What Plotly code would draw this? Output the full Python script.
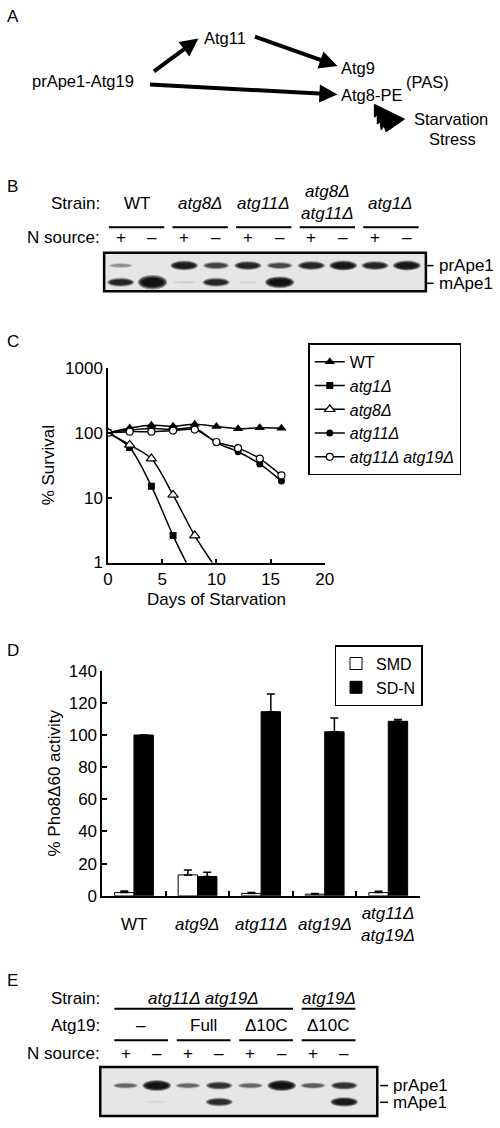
import plotly.graph_objects as go

W, H = 500, 1128
def px(x): return x / W
def py(y): return 1 - y / H

FONT = "Arial, Liberation Sans, sans-serif"
FS = 17
FSA = 16.5

# ---------------- Panel C data (survival) ----------------
days_wt = [0, 2, 4, 6, 8, 10, 12, 14, 16]
surv_wt = [100, 118, 130, 126, 135, 125, 115, 119, 117]
days_atg1 = [0, 2, 4, 6, 8]
surv_atg1 = [100, 59, 15, 2.6, 0.55]
days_atg8 = [0, 2, 4, 6, 8, 10]
surv_atg8 = [100, 65, 40, 11, 2.6, 0.8]
days_atg11 = [0, 2, 4, 6, 8, 10, 12, 14, 16]
surv_atg11 = [100, 110, 116, 112, 118, 70, 51, 33, 18]
days_atg11_19 = [0, 2, 4, 6, 8, 10, 12, 14, 16]
surv_atg11_19 = [100, 104, 104, 108, 112, 72, 58, 40, 22]

# ---------------- Panel D data (Pho8D60) ----------------
strains_D = ["WT", "<i>atg9Δ</i>", "<i>atg11Δ</i>", "<i>atg19Δ</i>", "<i>atg11Δ</i><br><i>atg19Δ</i>"]
smd = [2, 13, 1.5, 1, 2]
smd_err = [1, 3, 0.6, 0.4, 0.8]
sdn = [100, 12, 114.5, 102, 108.5]
sdn_err = [0, 2.7, 11, 8.5, 1.2]

# ---------------- Panel B blot ----------------
B_lanes = list(range(1, 11))
B_strains = ["WT", "<i>atg8Δ</i>", "<i>atg11Δ</i>", "<i>atg8Δ</i><br><i>atg11Δ</i>", "<i>atg1Δ</i>"]
B_nsource = ["+", "–"] * 5
B_prApe1 = [0.25, 0, 0.9, 0.6, 0.8, 0.55, 0.8, 0.95, 0.8, 0.95]
B_mApe1 = [0.8, 1.6, 0.06, 0.8, 0.03, 1.2, 0, 0, 0, 0]

# ---------------- Panel E blot ----------------
E_lanes = list(range(1, 9))
E_strains = ["<i>atg11Δ atg19Δ</i>", "<i>atg19Δ</i>"]
E_strain_span = [(1, 6), (7, 8)]
E_atg19 = ["–", "Full", "Δ10C", "Δ10C"]
E_nsource = ["+", "–"] * 4
E_prApe1 = [0.4, 1.1, 0.4, 0.7, 0.4, 1.1, 0.45, 0.7]
E_mApe1 = [0, 0.03, 0, 0.75, 0, 0, 0, 0.9]

fig = go.Figure()

# ---- Panel C traces ----
line = dict(color="black", width=1.5, shape="spline", smoothing=0.8)
fig.add_trace(go.Scatter(x=days_wt, y=surv_wt, name="WT", mode="lines+markers", line=line,
                         marker=dict(symbol="triangle-up", size=9, color="black"),
                         xaxis="x", yaxis="y", legend="legend"))
fig.add_trace(go.Scatter(x=days_atg1, y=surv_atg1, name="<i>atg1Δ</i>", mode="lines+markers", line=line,
                         marker=dict(symbol="square", size=7, color="black"),
                         xaxis="x", yaxis="y", legend="legend"))
fig.add_trace(go.Scatter(x=days_atg8, y=surv_atg8, name="<i>atg8Δ</i>", mode="lines+markers", line=line,
                         marker=dict(symbol="triangle-up", size=9, color="white", line=dict(color="black", width=1.2)),
                         xaxis="x", yaxis="y", legend="legend"))
fig.add_trace(go.Scatter(x=days_atg11, y=surv_atg11, name="<i>atg11Δ</i>", mode="lines+markers", line=line,
                         marker=dict(symbol="circle", size=7, color="black"),
                         xaxis="x", yaxis="y", legend="legend"))
fig.add_trace(go.Scatter(x=days_atg11_19, y=surv_atg11_19, name="<i>atg11Δ atg19Δ</i>", mode="lines+markers", line=line,
                         marker=dict(symbol="circle", size=7, color="white", line=dict(color="black", width=1.2)),
                         xaxis="x", yaxis="y", legend="legend"))

# ---- Panel D traces ----
fig.add_trace(go.Bar(x=strains_D, y=smd, name="SMD", marker=dict(color="white", line=dict(color="black", width=1)),
                     error_y=dict(type="data", array=smd_err, arrayminus=[0] * len(smd_err), symmetric=False,
                                  color="black", thickness=1.5, width=4),
                     xaxis="x2", yaxis="y2", legend="legend2"))
fig.add_trace(go.Bar(x=strains_D, y=sdn, name="SD-N", marker=dict(color="black", line=dict(color="black", width=1)),
                     error_y=dict(type="data", array=sdn_err, arrayminus=[0] * len(sdn_err), symmetric=False,
                                  color="black", thickness=1.5, width=4),
                     xaxis="x2", yaxis="y2", legend="legend2"))

# invisible anchor traces for blot axes
fig.add_trace(go.Scatter(x=B_lanes, y=[0.5] * len(B_lanes), mode="markers", marker=dict(opacity=0),
                         showlegend=False, hoverinfo="skip", xaxis="x3", yaxis="y3"))
fig.add_trace(go.Scatter(x=E_lanes, y=[0.5] * len(E_lanes), mode="markers", marker=dict(opacity=0),
                         showlegend=False, hoverinfo="skip", xaxis="x4", yaxis="y4"))

shapes = []
ann = []

def text(x, y, s, size=FS, xanchor="center", xref="paper", **kw):
    ann.append(dict(x=x, y=y, xref=xref, yref="paper", text=s, showarrow=False,
                    font=dict(family=FONT, size=size, color="black"), xanchor=xanchor, yanchor="middle", **kw))

# ---- Panel letters ----
text(px(0), py(8), "A", xanchor="left")
text(px(0), py(181), "B", xanchor="left")
text(px(0), py(338), "C", xanchor="left")
text(px(0), py(652), "D", xanchor="left")
text(px(0), py(988), "E", xanchor="left")

# ---- Panel A diagram ----
text(px(80), py(73), "prApe1-Atg19", size=FSA)
text(px(226), py(30), "Atg11", size=FSA)
text(px(344), py(60), "Atg9", xanchor="left", size=FSA)
text(px(344), py(87), "Atg8-PE", xanchor="left", size=FSA)
text(px(411), py(74), "(PAS)", xanchor="left", size=FSA)
text(px(459), py(112), "Starvation", size=FSA)
text(px(460), py(132), "Stress", size=FSA)
for (x0, y0, x1, y1) in [(153, 64, 199, 30), (258, 28, 342, 58), (153, 77, 342, 87)]:
    ann.append(dict(x=px(x1), y=py(y1), ax=x0 - x1, ay=y0 - y1, xref="paper", yref="paper",
                    axref="pixel", ayref="pixel", showarrow=True, arrowhead=2, arrowsize=0.9,
                    arrowwidth=4, arrowcolor="black", text=""))
pts = [(380, 97), (411, 112), (392, 125), (390, 119), (387, 123), (386, 115), (383, 117), (383, 108), (380, 110)]
path = "M " + " L ".join(f"{px(a)},{py(b)}" for a, b in pts) + " Z"
shapes.append(dict(type="path", xref="paper", yref="paper", path=path, fillcolor="black", line=dict(color="black", width=1)))

# ---- Blot helpers ----
def add_bands(xref, yref, lanes, row_y, amounts, px_lane, px_unit):
    for lane, a in zip(lanes, amounts):
        if a <= 0:
            continue
        w_px = 24 + 5 * min(a, 1.2)
        h_px = 3 + 7.5 * a
        d = min(a, 1.0)
        for scale, alpha in [(1.0, 0.4), (0.82, 0.6), (0.6, 0.85)]:
            hw = w_px * (0.5 + 0.5 * scale) / 2 / px_lane
            hh = h_px * scale / 2 / px_unit
            shapes.append(dict(type="circle", xref=xref, yref=yref, x0=lane - hw, x1=lane + hw,
                               y0=row_y - hh, y1=row_y + hh, line=dict(width=0),
                               fillcolor=f"rgba(12,12,12,{alpha * d:.3f})"))

def blot_bg(xr, yr):
    shapes.append(dict(type="rect", xref=f"{xr} domain", yref=f"{yr} domain", x0=0, x1=1, y0=0, y1=1,
                       fillcolor="#e6e6e6", line=dict(color="black", width=2.5), layer="below"))

# ---- Panel B ----
blot_bg("x3", "y3")
add_bands("x3", "y3", B_lanes, 1, B_prApe1, 32.7, 17)
add_bands("x3", "y3", B_lanes, 0, B_mApe1, 32.7, 17)
text(px(100), py(198), "Strain:", xanchor="right")
text(px(100), py(232), "N source:", xanchor="right")
for i, s in enumerate(B_strains):
    c = 2 * i + 1.5
    text(c, py(197 if "<br>" in s else 198), s, xref="x3")
    shapes.append(dict(type="line", xref="x3", yref="paper", x0=2 * i + 1 - 0.37, x1=2 * i + 2 + 0.37,
                       y0=py(222), y1=py(222), line=dict(color="black", width=2)))
for lane, s in zip(B_lanes, B_nsource):
    text(lane, py(232), s, xref="x3")
for yy, lab in [(261, "prApe1"), (279, "mApe1")]:
    shapes.append(dict(type="line", xref="paper", yref="paper", x0=px(434), x1=px(441), y0=py(yy), y1=py(yy),
                       line=dict(color="black", width=1.5)))
    text(px(444), py(yy), lab, xanchor="left")

# ---- Panel E ----
blot_bg("x4", "y4")
add_bands("x4", "y4", E_lanes, 1, E_prApe1, 32.1, 16.7)
add_bands("x4", "y4", E_lanes, 0, E_mApe1, 32.1, 16.7)
text(px(100), py(1006), "Strain:", xanchor="right")
text(px(100), py(1034), "Atg19:", xanchor="right")
text(px(100), py(1062), "N source:", xanchor="right")
for s, (a, b) in zip(E_strains, E_strain_span):
    text((a + b) / 2, py(1006), s, xref="x4")
    shapes.append(dict(type="line", xref="x4", yref="paper", x0=a - 0.36, x1=b + 0.36,
                       y0=py(1017), y1=py(1017), line=dict(color="black", width=2)))
for i, s in enumerate(E_atg19):
    text(2 * i + 1.5, py(1034), s, xref="x4")
    shapes.append(dict(type="line", xref="x4", yref="paper", x0=2 * i + 1 - 0.36, x1=2 * i + 2 + 0.36,
                       y0=py(1049), y1=py(1049), line=dict(color="black", width=2)))
for lane, s in zip(E_lanes, E_nsource):
    text(lane, py(1062), s, xref="x4")
for yy, lab in [(1095, "prApe1"), (1112, "mApe1")]:
    shapes.append(dict(type="line", xref="paper", yref="paper", x0=px(386), x1=px(394), y0=py(yy), y1=py(yy),
                       line=dict(color="black", width=1.5)))
    text(px(397), py(yy), lab, xanchor="left")

# ---- Panel D category labels (vertically centred like the reference) ----
for s in strains_D:
    text(s, py(931), s, xref="x2")

axfont = dict(family=FONT, size=FS, color="black")
common = dict(showgrid=False, zeroline=False, showline=True, linecolor="black", linewidth=1.5,
              ticks="inside", ticklen=4, tickwidth=1.5, tickcolor="black", tickfont=axfont)

blot_axis = dict(showgrid=False, zeroline=False, showticklabels=False, ticks="", showline=False, fixedrange=True)

fig.update_layout(
    width=W, height=H, margin=dict(l=0, r=0, t=0, b=0),
    paper_bgcolor="white", plot_bgcolor="rgba(0,0,0,0)",
    font=dict(family=FONT, size=FS, color="black"),
    barmode="group", bargap=0.39, bargroupgap=0,
    xaxis=dict(domain=[px(106), px(329)], anchor="y", range=[0, 20], dtick=5,
               title=dict(text="Days of Starvation", font=axfont, standoff=5), **common),
    yaxis=dict(domain=[py(563), py(365)], anchor="x", type="log", range=[0, 3],
               tickvals=[1, 10, 100, 1000], ticktext=["1", "10", "100", "1000"],
               title=dict(text="% Survival", font=axfont, standoff=6), **common),
    xaxis2=dict(domain=[px(100), px(427)], anchor="y2", tickson="boundaries", showticklabels=False,
                categoryorder="array", categoryarray=strains_D, **{**common, "ticklen": 5}),
    yaxis2=dict(domain=[py(902), py(673)], anchor="x2", range=[0, 140], dtick=20,
                title=dict(text="% Pho8Δ60 activity", font=axfont, standoff=4), **{**common, "ticklen": 5}),
    xaxis3=dict(domain=[px(102), px(433)], anchor="y3", range=[0.48, 10.6], **blot_axis),
    yaxis3=dict(domain=[py(287), py(248)], anchor="x3", range=[-0.53, 1.76], **blot_axis),
    xaxis4=dict(domain=[px(98), px(383)], anchor="y4", range=[0.19, 9.06], **blot_axis),
    yaxis4=dict(domain=[py(1126), py(1076)], anchor="x4", range=[-0.86, 2.14], **blot_axis),
    legend=dict(x=px(312), y=py(340), xanchor="left", yanchor="top", bordercolor="black", borderwidth=1.5,
                bgcolor="white", font=dict(family=FONT, size=16, color="black"), itemwidth=30, tracegroupgap=0),
    legend2=dict(x=px(339), y=py(647), xanchor="left", yanchor="top", bordercolor="black", borderwidth=1.5,
                 bgcolor="white", font=dict(family=FONT, size=16, color="black"), itemwidth=30),
    shapes=shapes, annotations=ann, showlegend=True,
)

fig.write_html("out.html", config={"displayModeBar": False},
               post_script="document.body.style.margin='0px';document.body.style.overflow='hidden';")
